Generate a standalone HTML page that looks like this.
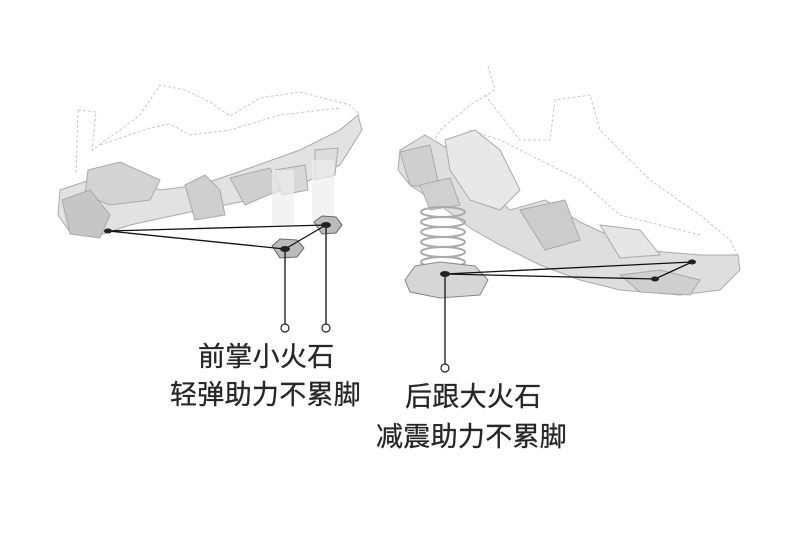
<!DOCTYPE html>
<html><head><meta charset="utf-8"><style>
html,body{margin:0;padding:0;background:#fff;}
.t{position:absolute;font-family:"Liberation Sans","Noto Sans CJK SC",sans-serif;color:#262626;font-size:27px;white-space:nowrap;letter-spacing:0.3px;-webkit-text-stroke:0.3px #262626}
</style></head><body>
<div style="position:relative;width:790px;height:552px;overflow:hidden;background:#fff">
<svg width="790" height="552" style="position:absolute;left:0;top:0">
<g fill="none" stroke="#c8c8c8" stroke-width="1" stroke-dasharray="3,2">
<path d="M78,110 L96,112 L92,150 L120,130 L140,115 L160,85 L185,90 L210,102 L230,116 L260,98 L300,92 L350,105 L360,115"/>
<path d="M100,145 L150,128 L170,124 L190,135 L230,130 L280,115 L340,108"/>
<path d="M78,110 L76,175"/>
<path d="M488,66 L495,90 L470,105 L440,130 L430,150"/>
<path d="M485,95 L520,140 L550,140 L555,100 L590,95 L600,130 L650,180 L700,215 L730,240 L738,255"/>
<path d="M440,150 L470,130 L500,140 L540,160 L580,180 L620,215 L660,225 L700,235"/>
</g>
<g stroke="#aaa" stroke-width="1">
<path d="M60,190 L90,180 L130,178 L160,190 L200,185 L230,175 L300,150 L340,130 L358,115 L362,130 L340,165 L300,185 L250,200 L190,212 L130,225 L100,235 L70,232 L58,215 Z" fill="#e2e2e2"/>
<path d="M88,170 L120,162 L160,180 L150,200 L110,205 L85,195 Z" fill="#d3d3d3"/>
<path d="M185,185 L205,175 L220,190 L225,215 L195,220 Z" fill="#cfcfcf"/>
<path d="M230,178 L270,168 L280,190 L245,205 Z" fill="#cfcfcf"/>
<path d="M275,170 L305,165 L308,190 L282,195 Z" fill="#d8d8d8"/>
<path d="M315,150 L338,148 L335,175 L315,180 Z" fill="#dcdcdc"/>
<path d="M62,200 L90,190 L110,215 L100,238 L70,234 Z" fill="#c6c6c6"/>
</g>
<rect x="272" y="170" width="22" height="55" fill="#eee" opacity="0.7"/>
<rect x="312" y="160" width="22" height="60" fill="#eee" opacity="0.7"/>
<g stroke="#666" stroke-width="1">
<path d="M314,222 L322,216 L336,217 L342,225 L336,233 L322,234 Z" fill="#bbb"/>
<path d="M272,246 L280,239 L297,240 L304,248 L297,257 L280,258 Z" fill="#bbb"/>
</g>
<g stroke="#aaa" stroke-width="1">
<path d="M400,150 L425,135 L450,150 L470,175 L510,210 L545,200 L580,222 L640,250 L700,255 L738,255 L740,270 L720,290 L680,295 L620,290 L580,280 L540,265 L500,245 L470,228 L440,205 L410,185 L398,170 Z" fill="#dedede"/>
<path d="M445,140 L475,130 L500,150 L520,190 L500,210 L470,200 L450,170 Z" fill="#e8e8e8"/>
<path d="M400,152 L430,145 L440,190 L410,185 Z" fill="#cfcfcf"/>
<path d="M420,185 L450,178 L460,205 L430,210 Z" fill="#d0d0d0"/>
<path d="M520,210 L565,200 L580,240 L545,250 Z" fill="#cccccc"/>
<path d="M600,225 L640,230 L660,255 L620,258 Z" fill="#e6e6e6"/>
<path d="M620,275 L660,270 L700,280 L690,295 L640,292 Z" fill="#cfcfcf"/>
</g>
<g fill="none" stroke="#aaa" stroke-width="2">
<ellipse cx="443" cy="212" rx="22" ry="5"/>
<ellipse cx="443" cy="222" rx="22" ry="5"/>
<ellipse cx="443" cy="232" rx="22" ry="5"/>
<ellipse cx="443" cy="242" rx="22" ry="5"/>
<ellipse cx="443" cy="252" rx="22" ry="5"/>
<ellipse cx="443" cy="262" rx="22" ry="5"/>
</g>
<path d="M405,280 L415,266 L440,262 L475,266 L488,280 L480,295 L440,298 L410,292 Z" fill="#d6d6d6" stroke="#888"/>
<g stroke="#111" stroke-width="1.3" fill="none">
<path d="M108,231 L326,225 M108,231 L285,249 M285,249 L326,225 M285,249 L285,324 M326,225 L326,324"/>
<path d="M445,274 L692,262 M445,274 L655,279 L692,262 M445,274 L445,364"/>
</g>
<g fill="#222"><ellipse cx="108" cy="231" rx="4" ry="2.5"/><ellipse cx="326" cy="225" rx="5" ry="3"/><ellipse cx="285" cy="249" rx="5" ry="3"/><ellipse cx="445" cy="274" rx="5" ry="3"/><ellipse cx="692" cy="262" rx="4" ry="2.5"/><ellipse cx="655" cy="279" rx="4" ry="2.5"/></g>
<g fill="#fff" stroke="#222" stroke-width="1.2"><circle cx="285" cy="328" r="4"/><circle cx="326" cy="328" r="4"/><circle cx="445" cy="368" r="4"/></g>
</svg>
<div class="t" style="left:198px;top:335px">前掌小火石</div>
<div class="t" style="left:170px;top:373px">轻弹助力不累脚</div>
<div class="t" style="left:405px;top:375px">后跟大火石</div>
<div class="t" style="left:376px;top:415px">减震助力不累脚</div>
</div>
</body></html>
